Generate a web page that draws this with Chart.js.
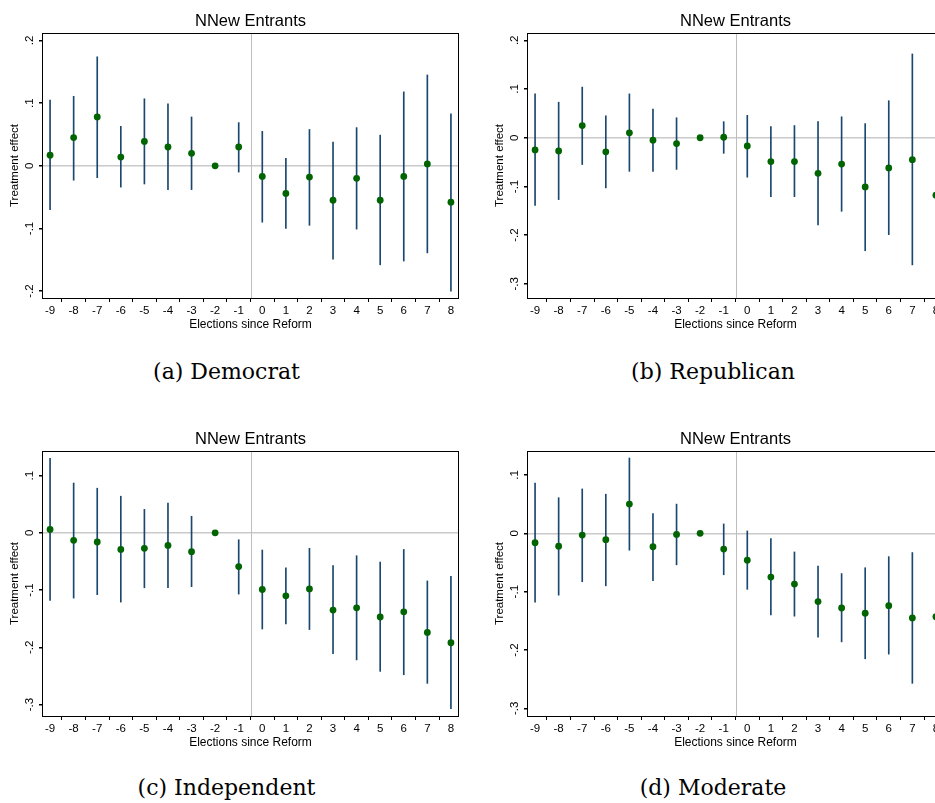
<!DOCTYPE html>
<html>
<head>
<meta charset="utf-8">
<script src="https://cdn.jsdelivr.net/npm/chart.js@4.4.1/dist/chart.umd.min.js"></script>
<style>
  html, body { margin: 0; padding: 0; background: #fff; }
  body { width: 935px; height: 803px; overflow: hidden; position: relative; }
  .panel { position: absolute; width: 470px; height: 340px; }
  .caption { position: absolute; font-family: "DejaVu Serif", serif; font-size: 22px;
             line-height: 26px; text-align: center; color: #000; }
</style>
</head>
<body>
<div class="panel" style="left:0;top:0"><canvas id="dem" width="470" height="340"></canvas></div>
<div class="panel" style="left:485px;top:0"><canvas id="rep" width="470" height="340"></canvas></div>
<div class="panel" style="left:0;top:418px"><canvas id="ind" width="470" height="340"></canvas></div>
<div class="panel" style="left:485px;top:418px"><canvas id="mod" width="470" height="340"></canvas></div>
<div class="caption" style="left:0;top:359px;width:453px">(a) Democrat</div>
<div class="caption" style="left:485px;top:359px;width:456px">(b) Republican</div>
<div class="caption" style="left:0;top:775px;width:453px">(c) Independent</div>
<div class="caption" style="left:485px;top:775px;width:456px">(d) Moderate</div>
<script>
// elections relative to the reform (x axis)
var elections = [-9, -8, -7, -6, -5, -4, -3, -2, -1, 0, 1, 2, 3, 4, 5, 6, 7, 8];

// (a) Democrat
var demEst = [0.017, 0.045, 0.078, 0.014, 0.039, 0.030, 0.020, 0, 0.030, -0.017, -0.044, -0.018, -0.055, -0.020, -0.055, -0.017, 0.003, -0.058];
var demLo  = [-0.070, -0.023, -0.019, -0.034, -0.029, -0.038, -0.038, null, -0.010, -0.090, -0.100, -0.095, -0.149, -0.101, -0.158, -0.152, -0.139, -0.200];
var demHi  = [0.105, 0.111, 0.174, 0.063, 0.107, 0.099, 0.078, null, 0.069, 0.055, 0.012, 0.058, 0.038, 0.061, 0.049, 0.118, 0.145, 0.083];

// (b) Republican
var repEst = [-0.025, -0.027, 0.025, -0.029, 0.010, -0.005, -0.012, 0, 0.001, -0.017, -0.049, -0.049, -0.073, -0.054, -0.101, -0.062, -0.045, -0.118];
var repLo  = [-0.139, -0.127, -0.055, -0.103, -0.069, -0.069, -0.065, null, -0.032, -0.081, -0.121, -0.121, -0.179, -0.151, -0.232, -0.199, -0.261, null];
var repHi  = [0.090, 0.073, 0.104, 0.045, 0.090, 0.059, 0.041, null, 0.033, 0.046, 0.023, 0.025, 0.033, 0.043, 0.029, 0.076, 0.172, null];

// (c) Independent
var indEst = [0.006, -0.013, -0.016, -0.029, -0.027, -0.022, -0.033, 0, -0.059, -0.099, -0.110, -0.098, -0.135, -0.131, -0.147, -0.138, -0.174, -0.192];
var indLo  = [-0.118, -0.114, -0.108, -0.121, -0.096, -0.096, -0.094, null, -0.107, -0.168, -0.159, -0.169, -0.211, -0.222, -0.242, -0.248, -0.263, -0.307];
var indHi  = [0.130, 0.087, 0.078, 0.064, 0.041, 0.052, 0.029, null, -0.012, -0.030, -0.061, -0.027, -0.057, -0.040, -0.051, -0.029, -0.084, -0.076];

// (d) Moderate
var modEst = [-0.016, -0.022, -0.003, -0.011, 0.050, -0.023, -0.002, 0, -0.027, -0.046, -0.075, -0.087, -0.117, -0.128, -0.137, -0.124, -0.145, -0.143];
var modLo  = [-0.118, -0.106, -0.083, -0.090, -0.029, -0.081, -0.054, null, -0.071, -0.096, -0.140, -0.142, -0.178, -0.186, -0.215, -0.207, -0.257, null];
var modHi  = [0.086, 0.061, 0.076, 0.067, 0.129, 0.034, 0.050, null, 0.016, 0.004, -0.009, -0.032, -0.056, -0.069, -0.059, -0.040, -0.033, null];

var REFORM_AT = -0.5;
var sans = "'Liberation Sans', Arial, sans-serif";

// stata style tick label: .1, 0, -.2
function stataTick(v) {
  var r = Math.round(v * 10);
  if (r === 0) return '0';
  return (r < 0 ? '-' : '') + '.' + Math.abs(r);
}

// frame round the plot region + reform line
var framePlugin = {
  id: 'frame',
  beforeDatasetsDraw: function(chart) {
    var a = chart.chartArea, ctx = chart.ctx;
    var px = Math.round(chart.scales.x.getPixelForValue(REFORM_AT)) + 0.5;
    ctx.save();
    ctx.strokeStyle = '#bdbdbd';
    ctx.lineWidth = 1;
    ctx.beginPath();
    ctx.moveTo(px, a.top);
    ctx.lineTo(px, a.bottom);
    ctx.stroke();
    ctx.restore();
  },
  afterDraw: function(chart) {
    var a = chart.chartArea, ctx = chart.ctx;
    ctx.save();
    ctx.strokeStyle = '#000';
    ctx.lineWidth = 1;
    ctx.strokeRect(Math.round(a.left) - 0.5, Math.round(a.top) + 0.5,
                   Math.round(a.right - a.left) + 1, Math.round(a.bottom - a.top));
    ctx.restore();
  }
};

function makePanel(id, est, lo, hi, yMin, yMax) {
  var points = [];
  var bars = [];
  for (var i = 0; i < elections.length; i++) {
    points.push({ x: elections[i], y: est[i] });
    if (lo[i] != null && hi[i] != null) {
      bars.push({ x: elections[i], y: [lo[i], hi[i]] });
    }
  }

  return new Chart(document.getElementById(id), {
    type: 'scatter',
    data: {
      datasets: [{
        type: 'scatter',
        data: points,
        backgroundColor: '#006400',
        borderWidth: 0,
        pointRadius: 3.4,
        pointHoverRadius: 3.4
      }, {
        type: 'bar',
        data: bars,
        backgroundColor: '#1a476f',
        borderWidth: 0,
        barThickness: 1,
        grouped: false
      }]
    },
    options: {
      responsive: false,
      animation: false,
      events: [],
      layout: { padding: { left: 0, right: 12, top: 0, bottom: 2 } },
      plugins: {
        legend: { display: false },
        tooltip: { enabled: false },
        title: {
          display: true,
          text: 'NNew Entrants',
          fullSize: false,
          color: '#000',
          font: { family: sans, size: 16.5, weight: 'normal', lineHeight: '20px' },
          padding: { top: 11, bottom: 2 }
        }
      },
      scales: {
        x: {
          type: 'linear',
          min: -9.3,
          max: 8.3,
          offset: false,
          afterFit: function(scale) { scale.height = 40; },
          border: { display: false },
          grid: { drawOnChartArea: false, drawTicks: true, tickLength: 4, tickColor: '#000' },
          ticks: {
            stepSize: 1,
            includeBounds: false,
            autoSkip: false,
            maxRotation: 0,
            padding: 2,
            color: '#000',
            font: { family: sans, size: 11.5 },
            callback: function(v) { return String(Math.round(v)); }
          },
          title: {
            display: true,
            text: 'Elections since Reform',
            color: '#000',
            font: { family: sans, size: 12 },
            padding: { top: 0, bottom: 6 }
          }
        },
        y: {
          type: 'linear',
          min: yMin,
          max: yMax,
          beginAtZero: false,
          afterFit: function(scale) { scale.width = 43; },
          border: { display: false },
          grid: {
            drawTicks: true,
            tickLength: 4,
            tickColor: '#000',
            lineWidth: 1.5,
            color: function(c) {
              return c.tick && Math.abs(c.tick.value) < 1e-9 ? '#cacaca' : 'rgba(0,0,0,0)';
            }
          },
          ticks: {
            stepSize: 0.1,
            includeBounds: false,
            minRotation: 90,
            maxRotation: 90,
            crossAlign: 'center',
            padding: 2,
            color: '#000',
            font: { family: sans, size: 11.5 },
            callback: stataTick
          },
          title: {
            display: true,
            text: 'Treatment effect',
            color: '#000',
            font: { family: sans, size: 11.5 },
            padding: { top: 8, bottom: 0 }
          }
        }
      }
    },
    plugins: [framePlugin]
  });
}

makePanel('dem', demEst, demLo, demHi, -0.211, 0.212);
makePanel('rep', repEst, repLo, repHi, -0.329, 0.215);
makePanel('ind', indEst, indLo, indHi, -0.320, 0.143);
makePanel('mod', modEst, modLo, modHi, -0.313, 0.141);
</script>
</body>
</html>
